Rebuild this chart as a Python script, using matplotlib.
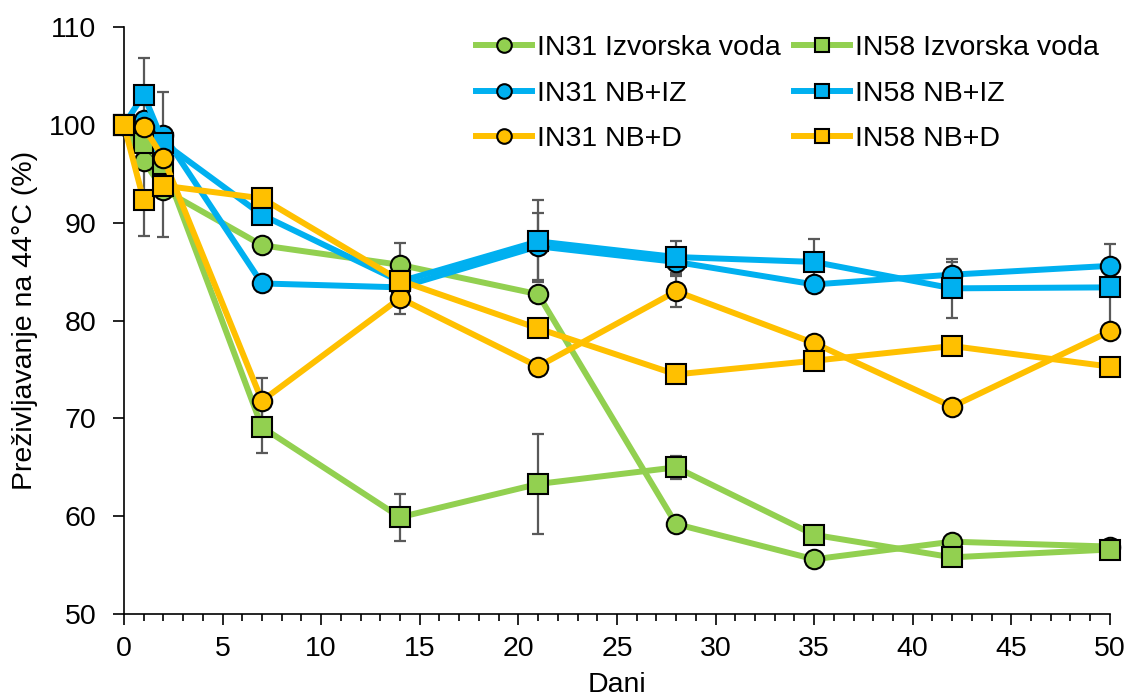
import numpy as np
import matplotlib.pyplot as plt
from matplotlib.ticker import MultipleLocator

plt.rcParams['font.family'] = ['Liberation Sans', 'DejaVu Sans']

days = [0, 1, 2, 7, 14, 21, 28, 35, 42, 50]

in31_izv = [100, 96.3, 93.4, 87.7, 85.7, 82.7, 59.2, 55.6, 57.4, 56.9]
in58_izv = [100, 98.2, 96.0, 69.1, 59.9, 63.3, 65.0, 58.1, 55.8, 56.6]
in31_nbiz = [100, 100.5, 99.0, 83.8, 83.4, 87.6, 86.0, 83.7, 84.7, 85.6]
in58_nbiz = [100, 103.1, 98.2, 90.8, 84.0, 88.1, 86.5, 86.0, 83.3, 83.4]
in31_nbd = [100, 99.8, 96.6, 71.8, 82.3, 75.3, 83.0, 77.7, 71.2, 78.9]
in58_nbd = [100, 92.3, 93.8, 92.5, 84.1, 79.2, 74.5, 75.9, 77.4, 75.3]

err31_izv = [0, 0, 0, 0, 2.2, 0, 0, 0, 0, 0]
err58_izv = [0, 0, 0, 2.6, 2.4, 5.1, 1.2, 0, 0, 0]
err31_nbiz = [0, 0, 0, 0.8, 0, 3.4, 1.3, 0, 1.3, 0]
err58_nbiz = [0, 3.7, 5.2, 0, 0, 4.2, 1.6, 2.3, 3.0, 4.4]
err31_nbd = [0, 0, 0, 2.3, 1.6, 0, 1.6, 0, 0, 0]
err58_nbd = [0, 3.6, 5.2, 0, 0, 0, 0, 0, 0, 0]

# drawing order (later on top)
labels = ['IN31 Izvorska voda', 'IN58 Izvorska voda', 'IN31 NB+IZ',
          'IN58 NB+IZ', 'IN31 NB+D', 'IN58 NB+D']
series = [in31_izv, in58_izv, in31_nbiz, in58_nbiz, in31_nbd, in58_nbd]
errors = [err31_izv, err58_izv, err31_nbiz, err58_nbiz, err31_nbd, err58_nbd]
colors = ['#92D050', '#92D050', '#00B0F0', '#00B0F0', '#FFC000', '#FFC000']
markers = ['o', 's', 'o', 's', 'o', 's']

fs = 20.5
fig = plt.figure(figsize=(11.32, 6.97), dpi=100)
ax = fig.add_axes([0.1095, 0.119, 0.871, 0.842])

for vals, err in zip(series, errors):
    e = np.array(err)
    v = np.array(vals)
    m = e > 0
    ax.errorbar(np.array(days)[m], v[m], yerr=e[m], fmt='none',
                ecolor='#595959', elinewidth=1.6, capsize=4.5, capthick=1.6,
                zorder=1, clip_on=False)

handles = []
for i, (vals, lab, c, mk) in enumerate(zip(series, labels, colors, markers)):
    h, = ax.plot(days, vals, color=c, lw=4.3, marker=mk, markersize=14,
                 markerfacecolor=c, markeredgecolor='black', markeredgewidth=1.5,
                 label=lab, zorder=3 + i, clip_on=False)
    handles.append(h)

ax.set_xlim(0, 50)
ax.set_ylim(50, 110)
ax.set_xticks(range(0, 51, 5))
ax.xaxis.set_minor_locator(MultipleLocator(1))
ax.set_yticks(range(50, 111, 10))
ax.spines['top'].set_visible(False)
ax.spines['right'].set_visible(False)
for s in ['left', 'bottom']:
    ax.spines[s].set_color('black')
    ax.spines[s].set_linewidth(1.2)
ax.tick_params(axis='both', which='major', labelsize=fs, length=8, width=1.2, color='black')
ax.tick_params(axis='x', which='major', pad=8)
ax.tick_params(axis='y', which='major', pad=12)
ax.tick_params(axis='x', which='minor', length=5, width=1.2, color='black')
ax.set_xlabel('Dani', fontsize=fs, labelpad=7)
ax.set_ylabel('Preživljavanje na 44°C (%)', fontsize=fs, labelpad=8)

order = [0, 2, 4, 1, 3, 5]
ax.legend(handles=[handles[k] for k in order], ncol=2, loc='upper right',
          bbox_to_anchor=(1.015, 1.03), frameon=False, fontsize=fs,
          handlelength=1.95, columnspacing=0.45, handletextpad=0.2,
          labelspacing=0.68, markerscale=0.75)

fig.savefig('out.png', dpi=100)
